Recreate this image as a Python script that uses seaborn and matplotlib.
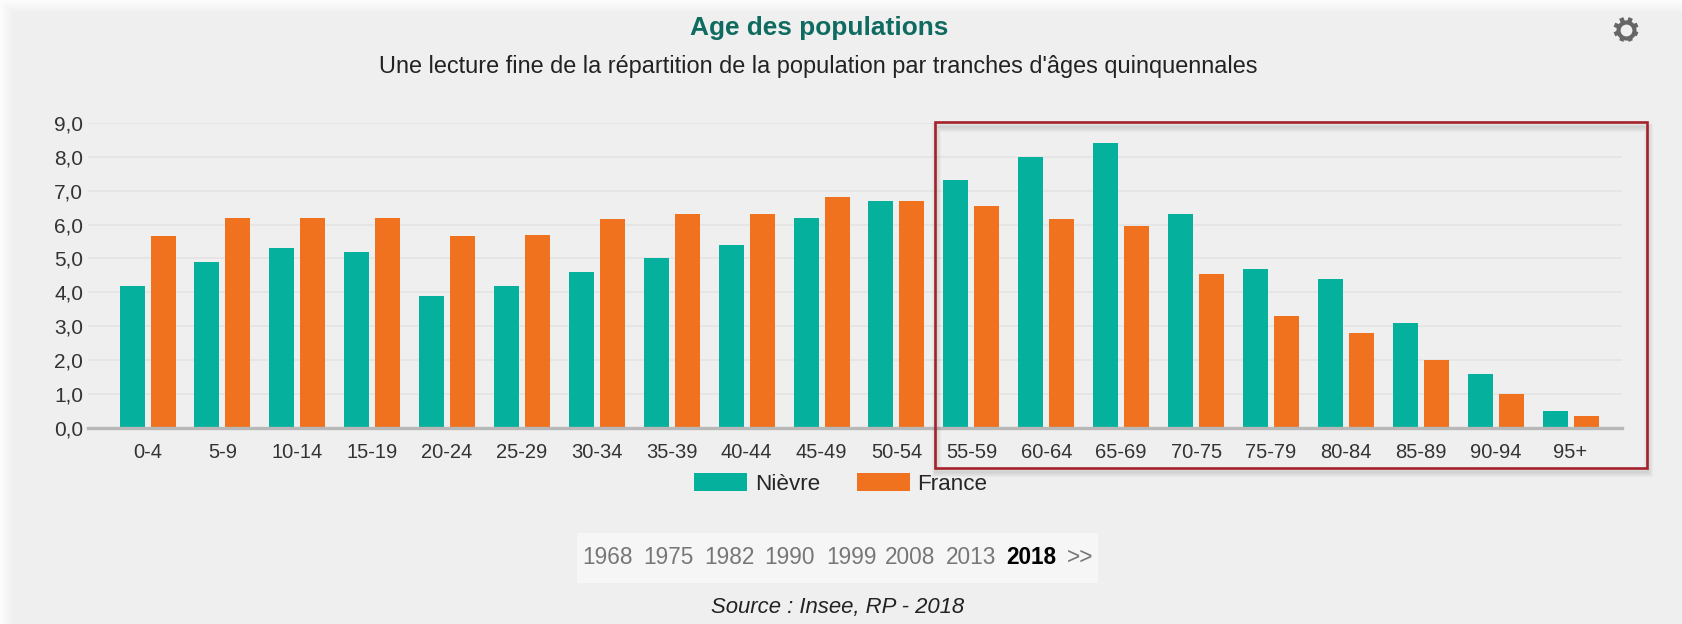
import numpy as np
import pandas as pd
import matplotlib
matplotlib.use('Agg')
import matplotlib.pyplot as plt
from matplotlib.lines import Line2D
from matplotlib.patches import Rectangle
from matplotlib.ticker import FuncFormatter
import seaborn as sns

ages = ['0-4', '5-9', '10-14', '15-19', '20-24', '25-29', '30-34', '35-39', '40-44', '45-49',
        '50-54', '55-59', '60-64', '65-69', '70-75', '75-79', '80-84', '85-89', '90-94', '95+']
nievre = [4.2, 4.9, 5.3, 5.2, 3.9, 4.2, 4.6, 5.0, 5.4, 6.2,
          6.7, 7.3, 8.0, 8.4, 6.3, 4.7, 4.4, 3.1, 1.6, 0.5]
france = [5.65, 6.2, 6.2, 6.2, 5.65, 5.7, 6.15, 6.3, 6.3, 6.8,
          6.7, 6.55, 6.15, 5.95, 4.55, 3.3, 2.8, 2.0, 1.0, 0.35]
y_ticks = [0, 1, 2, 3, 4, 5, 6, 7, 8, 9]
years = ['1968', '1975', '1982', '1990', '1999', '2008', '2013', '2018', '>>']

W, H = 1683, 624
TEAL = '#05b09c'
ORANGE = '#f0721e'
PANEL = '#efefef'
GEAR = '#666666'

sns.set_theme(style='whitegrid')
plt.rcParams['font.family'] = ['Liberation Sans', 'DejaVu Sans']


def fx(px):
    return px / W


def fy(px):
    return 1 - px / H


def add_rect(fig, x0, y0, x1, y1, **kw):
    """Rectangle given in pixels from the top left of the picture."""
    r = Rectangle((fx(x0), fy(y1)), (x1 - x0) / W, (y1 - y0) / H,
                  transform=fig.transFigure, **kw)
    fig.add_artist(r)
    return r


def add_gear(fig, cx, cy):
    """Settings icon: ring with eight teeth."""
    for a in np.deg2rad([22.5, 67.5, 112.5, 157.5]):
        dx, dy = 12.5 * np.cos(a), 12.5 * np.sin(a)
        fig.add_artist(Line2D([fx(cx - dx), fx(cx + dx)], [fy(cy - dy), fy(cy + dy)],
                              transform=fig.transFigure, color=GEAR, linewidth=3.2,
                              solid_capstyle='butt'))
    fig.add_artist(Line2D([fx(cx)], [fy(cy)], transform=fig.transFigure, marker='o',
                          markersize=14.5, color=GEAR, markeredgewidth=0))
    fig.add_artist(Line2D([fx(cx)], [fy(cy)], transform=fig.transFigure, marker='o',
                          markersize=8.5, color=PANEL, markeredgewidth=0))


df = pd.DataFrame({
    'age': ages * 2,
    'pct': nievre + france,
    'zone': ['Nièvre'] * len(ages) + ['France'] * len(ages),
})

fig = plt.figure(figsize=(W / 100, H / 100), dpi=100, facecolor='#fcfcfc')

# panel with its soft shadow
for i in range(14):
    add_rect(fig, 14 - i, 14 - i, W + 20, H + 20, facecolor='black', alpha=0.005,
             edgecolor='none', zorder=-3)
add_rect(fig, 14, 14, W + 20, H + 20, facecolor=PANEL, edgecolor='none', zorder=-2)

ax = fig.add_axes([fx(88), fy(428), (1622 - 88) / W, (428 - 122.8) / H])
ax.patch.set_alpha(0)

sns.barplot(data=df, x='age', y='pct', hue='zone', palette=[TEAL, ORANGE], saturation=1,
            width=0.828, gap=0.194, linewidth=0, ax=ax)

ax.set_xlim(-0.795, 19.687)
ax.set_ylim(0, 9)
ax.set_xlabel('')
ax.set_ylabel('')
ax.set_yticks(y_ticks)
ax.yaxis.set_major_formatter(FuncFormatter(lambda v, p: f'{v:.1f}'.replace('.', ',')))
ax.grid(axis='x', visible=False)
ax.grid(axis='y', color='#e4e4e4', linewidth=1.2)
ax.set_axisbelow(True)
for side in ['top', 'left', 'right']:
    ax.spines[side].set_visible(False)
ax.spines['bottom'].set_color('#b8b8b8')
ax.spines['bottom'].set_linewidth(2.4)
ax.tick_params(axis='x', length=6, width=0.8, color='#dcdcdc', labelsize=14.5, labelcolor='#333333', pad=5)
ax.tick_params(axis='y', length=0, labelsize=15, labelcolor='#333333', pad=3.5)

sns.move_legend(ax, 'center', bbox_to_anchor=(fx(841), fy(484)), bbox_transform=fig.transFigure,
                ncol=2, frameon=False, title=None, fontsize=16.2, handlelength=2.36,
                handleheight=0.84, handletextpad=0.35, columnspacing=1.6)

# titles
fig.text(fx(819), fy(27.5), 'Age des populations', ha='center', va='center',
         fontsize=18.9, fontweight='bold', color='#0f6b5f')
fig.text(fx(818.5), fy(66), "Une lecture fine de la répartition de la population par tranches d'âges quinquennales",
         ha='center', va='center', fontsize=16.9, color='#222222')
add_gear(fig, 1626, 29.5)

# year selector
add_rect(fig, 577, 533, 1098, 583, facecolor='#f6f6f6', edgecolor='none', zorder=-1)
year_x = [607.6, 668, 729, 790, 851.5, 910.5, 971, 1031, 1080]
for label, px in zip(years, year_x):
    current = label == '2018'
    fig.text(fx(px), fy(557), label, ha='center', va='center', fontsize=16.3,
             fontweight='bold' if current else 'normal',
             color='black' if current else '#777777')

fig.text(fx(838), fy(607), 'Source : Insee, RP - 2018', ha='center', va='center',
         fontsize=15.9, style='italic', color='#222222')

# red highlight box and its shadow
for i in range(1, 6):
    add_rect(fig, 935 + 1, 123 + 4, 1647 + 1, 468 + 4, facecolor='none', edgecolor='black',
             linewidth=i * 1.3, alpha=0.025, zorder=4)
add_rect(fig, 935, 122, 1647, 468, facecolor='none', edgecolor='#a5222c', linewidth=1.9, zorder=5)

fig.savefig('out.png', dpi=100)
